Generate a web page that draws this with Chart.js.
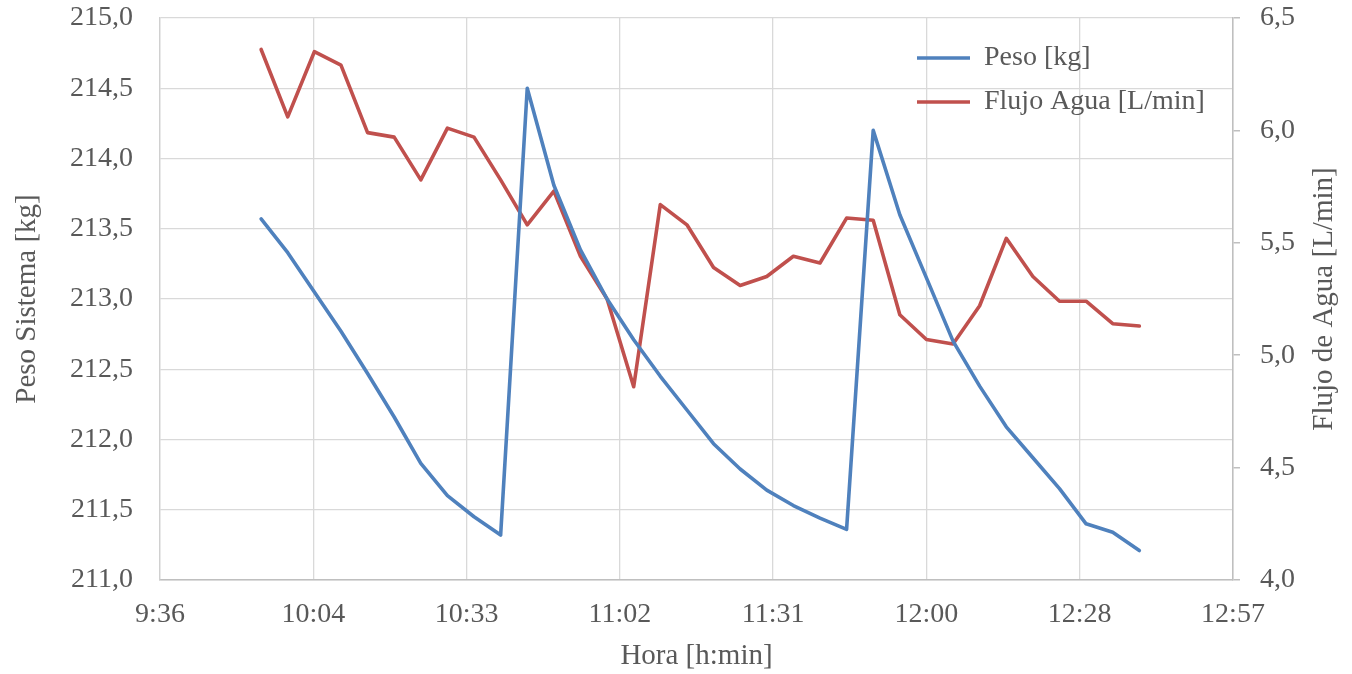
<!DOCTYPE html>
<html>
<head>
<meta charset="utf-8">
<script src="https://cdn.jsdelivr.net/npm/chart.js@4"></script>
<style>
html,body{margin:0;padding:0;background:#ffffff;}
canvas{display:block;}
</style>
</head>
<body>
<canvas id="c" width="1352" height="674"></canvas>
<script>
// ---- Data ----
const horas = ['9:55','10:00','10:05','10:10','10:15','10:20','10:25','10:30','10:35','10:40',
               '10:45','10:50','10:55','11:00','11:05','11:10','11:15','11:20','11:25','11:30',
               '11:35','11:40','11:45','11:50','11:55','12:00','12:05','12:10','12:15','12:20',
               '12:25','12:30','12:35','12:40'];
const peso = [213.57, 213.33, 213.05, 212.77, 212.47, 212.16, 211.83, 211.60, 211.45, 211.32,
              214.50, 213.81, 213.35, 213.00, 212.71, 212.45, 212.21, 211.97, 211.79, 211.64,
              211.53, 211.44, 211.36, 214.20, 213.60, 213.15, 212.70, 212.38, 212.09, 211.87,
              211.65, 211.40, 211.34, 211.21];
const flujo = [6.36, 6.06, 6.35, 6.29, 5.99, 5.97, 5.78, 6.01, 5.97, 5.78,
               5.58, 5.73, 5.44, 5.25, 4.86, 5.67, 5.58, 5.39, 5.31, 5.35,
               5.44, 5.41, 5.61, 5.60, 5.18, 5.07, 5.05, 5.22, 5.52, 5.35,
               5.24, 5.24, 5.14, 5.13];
const seriesNames = ['Peso [kg]', 'Flujo Agua [L/min]'];
const xTickLabels = ['9:36','10:04','10:33','11:02','11:31','12:00','12:28','12:57'];
const yLeftTickLabels = ['211,0','211,5','212,0','212,5','213,0','213,5','214,0','214,5','215,0'];
const yRightTickLabels = ['4,0','4,5','5,0','5,5','6,0','6,5'];
const axisTitles = ['Hora [h:min]', 'Peso Sistema [kg]', 'Flujo de Agua [L/min]'];

// x axis range in minutes of day (Excel day fractions 0.40 .. 0.54, step 0.02)
const xMin = 0.40 * 1440, xMax = 0.54 * 1440, xStep = 0.02 * 1440;
const yLeftMin = 211, yLeftMax = 215, yRightMin = 4, yRightMax = 6.5, yStep = 0.5;

function toMin(s) { const p = s.split(':').map(Number); return p[0] * 60 + p[1]; }

const TEXT = '#595959';
const FONT = '"Liberation Serif", "Times New Roman", serif';

const legendMover = {
  id: 'legendMover',
  beforeDraw(chart) {
    const lg = chart.legend, ca = chart.chartArea;
    lg.left = ca.right - 332;
    lg.right = chart.width;
    lg.top = ca.top + 10;
    lg.bottom = lg.top + 200;
  }
};

const rightTitle = {
  id: 'rightTitle',
  afterDraw(chart) {
    const s = chart.scales.y1, ca = chart.chartArea, ctx = chart.ctx;
    ctx.save();
    ctx.fillStyle = TEXT;
    ctx.font = '29px ' + FONT;
    ctx.textAlign = 'center';
    ctx.textBaseline = 'middle';
    ctx.translate(s.right - 28, (ca.top + ca.bottom) / 2);
    ctx.rotate(-Math.PI / 2);
    ctx.fillText(axisTitles[2], 0, 0);
    ctx.restore();
  }
};

function fixY(width) {
  return (s) => { s.width = width; s.paddingTop = 0; s.paddingBottom = 0; };
}

new Chart(document.getElementById('c'), {
  type: 'line',
  data: {
    datasets: [
      {
        label: seriesNames[0],
        data: horas.map((h, i) => ({ x: toMin(h), y: peso[i] })),
        borderColor: '#4F81BD',
        backgroundColor: '#4F81BD',
        borderWidth: 3.6,
        pointRadius: 0,
        tension: 0,
        borderJoinStyle: 'round',
        borderCapStyle: 'round',
        yAxisID: 'y'
      },
      {
        label: seriesNames[1],
        data: horas.map((h, i) => ({ x: toMin(h), y: flujo[i] })),
        borderColor: '#C0504D',
        backgroundColor: '#C0504D',
        borderWidth: 3.6,
        pointRadius: 0,
        tension: 0,
        borderJoinStyle: 'round',
        borderCapStyle: 'round',
        yAxisID: 'y1'
      }
    ]
  },
  options: {
    responsive: false,
    animation: false,
    devicePixelRatio: 1,
    layout: { padding: { top: 18, left: 0, right: 0, bottom: 0 } },
    plugins: {
      tooltip: { enabled: false },
      legend: {
        position: 'chartArea',
        align: 'start',
        labels: {
          usePointStyle: true,
          pointStyle: 'line',
          pointStyleWidth: 53,
          padding: 16,
          color: TEXT,
          font: { family: FONT, size: 28 }
        }
      }
    },
    scales: {
      x: {
        type: 'linear',
        position: 'bottom',
        min: xMin,
        max: xMax,
        afterFit: (s) => { s.height = 94; },
        ticks: {
          stepSize: xStep,
          padding: 18,
          color: TEXT,
          maxRotation: 0,
          autoSkip: false,
          font: { family: FONT, size: 28 },
          callback: (v, i) => xTickLabels[i]
        },
        grid: { color: '#D9D9D9', lineWidth: 1.3, drawTicks: false },
        border: { color: '#BFBFBF', width: 1.5 },
        title: {
          display: true,
          text: axisTitles[0],
          color: TEXT,
          font: { family: FONT, size: 29 },
          padding: { top: 0, bottom: 0 }
        }
      },
      y: {
        type: 'linear',
        position: 'left',
        min: yLeftMin,
        max: yLeftMax,
        afterFit: fixY(160),
        ticks: {
          stepSize: yStep,
          padding: 27,
          color: TEXT,
          font: { family: FONT, size: 28 },
          callback: (v, i) => yLeftTickLabels[i]
        },
        grid: { color: '#D9D9D9', lineWidth: 1.3, drawTicks: false },
        border: { color: '#D0D0D0', width: 1.3 },
        title: {
          display: true,
          text: axisTitles[1],
          color: TEXT,
          font: { family: FONT, size: 29 },
          padding: { top: 10, bottom: 0 }
        }
      },
      y1: {
        type: 'linear',
        position: 'right',
        min: yRightMin,
        max: yRightMax,
        afterFit: fixY(119),
        ticks: {
          stepSize: yStep,
          padding: 20,
          color: TEXT,
          font: { family: FONT, size: 28 },
          callback: (v, i) => yRightTickLabels[i]
        },
        grid: { drawOnChartArea: false, drawTicks: true, tickLength: 7, color: '#BFBFBF', lineWidth: 1.5 },
        border: { color: '#BFBFBF', width: 1.5 }
      }
    }
  },
  plugins: [legendMover, rightTitle]
});
</script>
</body>
</html>
